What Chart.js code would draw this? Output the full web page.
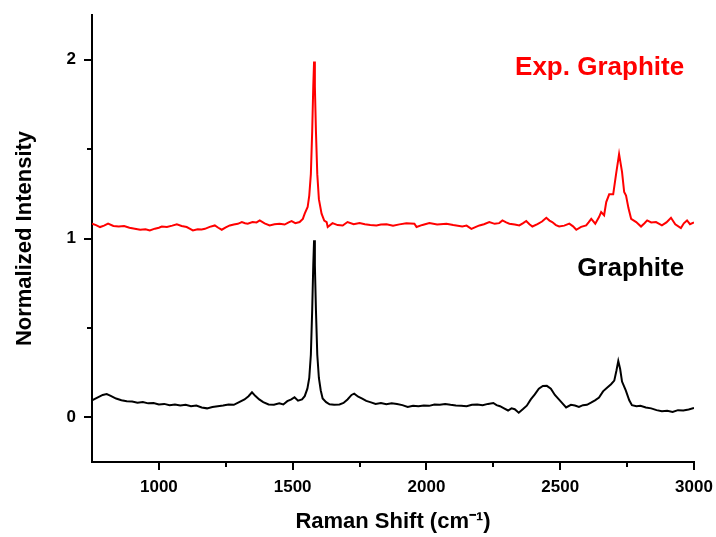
<!DOCTYPE html>
<html>
<head>
<meta charset="utf-8">
<script src="https://cdn.jsdelivr.net/npm/chart.js@4.4.1/dist/chart.umd.min.js"></script>
<style>
  body { margin: 0; background: #fff; }
  #caja { width: 716px; height: 537px; }
</style>
</head>
<body>
<div id="caja"><canvas id="graficoRaman"></canvas></div>
<script>
// Grafito (negro)
const grafitoShift = [750,770,790,805,820,840,860,880,900,920,940,960,980,1000,1020,1040,1060,1080,1100,1120,1140,1160,1180,1200,1220,1240,1260,1280,1300,1320,1335,1348,1360,1375,1390,1410,1430,1450,1465,1480,1495,1507,1520,1535,1545,1555,1562,1568,1573,1577,1580,1583,1587,1592,1598,1605,1612,1625,1638,1655,1675,1690,1705,1720,1730,1745,1760,1775,1790,1810,1830,1850,1870,1890,1910,1930,1950,1970,1990,2010,2030,2050,2070,2090,2110,2130,2150,2170,2190,2210,2230,2250,2262,2275,2290,2305,2318,2330,2345,2360,2375,2390,2405,2420,2435,2450,2465,2480,2495,2510,2522,2540,2555,2570,2585,2600,2615,2630,2645,2660,2675,2690,2702,2710,2717,2724,2731,2745,2758,2768,2785,2800,2820,2840,2860,2880,2900,2920,2940,2960,2980,3000];
const grafitoIntensidad = [0.095,0.11,0.125,0.13,0.12,0.105,0.095,0.09,0.088,0.082,0.085,0.078,0.08,0.072,0.075,0.068,0.072,0.066,0.07,0.062,0.066,0.055,0.05,0.058,0.062,0.066,0.072,0.07,0.085,0.1,0.118,0.14,0.12,0.1,0.085,0.072,0.07,0.078,0.072,0.09,0.1,0.112,0.093,0.1,0.118,0.16,0.22,0.35,0.6,0.85,0.99,0.85,0.6,0.35,0.22,0.15,0.105,0.085,0.073,0.07,0.072,0.08,0.1,0.125,0.132,0.115,0.105,0.092,0.085,0.075,0.08,0.073,0.078,0.074,0.068,0.058,0.065,0.062,0.066,0.064,0.072,0.07,0.075,0.07,0.066,0.064,0.062,0.07,0.072,0.068,0.075,0.08,0.068,0.062,0.05,0.038,0.05,0.045,0.026,0.045,0.065,0.1,0.128,0.16,0.175,0.176,0.16,0.125,0.1,0.075,0.055,0.07,0.066,0.058,0.068,0.07,0.082,0.095,0.11,0.145,0.165,0.185,0.205,0.26,0.315,0.27,0.2,0.15,0.095,0.068,0.062,0.064,0.055,0.05,0.04,0.034,0.036,0.03,0.04,0.038,0.044,0.052];

// Grafito expandido (rojo)
const expShift = [750,765,780,795,810,830,850,870,890,910,930,950,966,985,1000,1011,1030,1050,1067,1085,1104,1115,1127,1145,1160,1172,1190,1209,1222,1235,1250,1265,1280,1295,1310,1322,1332,1350,1365,1377,1395,1414,1432,1451,1470,1485,1496,1510,1526,1538,1545,1556,1562,1568,1573,1577,1580,1583,1587,1592,1598,1608,1618,1627,1631,1649,1668,1687,1705,1728,1750,1770,1790,1813,1830,1851,1875,1899,1925,1955,1963,1985,2011,2040,2075,2100,2134,2150,2168,2185,2198,2215,2235,2255,2272,2284,2298,2310,2330,2347,2360,2373,2385,2396,2415,2432,2448,2460,2470,2484,2496,2515,2534,2548,2560,2578,2597,2606,2616,2631,2645,2653,2664,2672,2683,2698,2709,2720,2731,2739,2746,2755,2765,2784,2802,2815,2825,2840,2858,2880,2897,2914,2930,2951,2962,2974,2985,3000];
const expIntensidad = [1.083,1.075,1.064,1.072,1.083,1.07,1.067,1.07,1.06,1.055,1.049,1.052,1.045,1.055,1.06,1.067,1.065,1.072,1.079,1.07,1.064,1.055,1.045,1.052,1.05,1.054,1.065,1.073,1.06,1.049,1.062,1.073,1.078,1.082,1.092,1.085,1.083,1.092,1.09,1.101,1.085,1.073,1.08,1.083,1.078,1.09,1.097,1.086,1.092,1.11,1.139,1.176,1.24,1.36,1.6,1.85,1.99,1.85,1.6,1.36,1.22,1.139,1.1,1.092,1.064,1.086,1.075,1.073,1.092,1.08,1.086,1.08,1.075,1.073,1.078,1.079,1.072,1.079,1.085,1.083,1.064,1.076,1.086,1.078,1.083,1.075,1.067,1.072,1.054,1.065,1.073,1.08,1.092,1.082,1.086,1.101,1.09,1.083,1.078,1.073,1.085,1.098,1.08,1.067,1.08,1.095,1.116,1.1,1.092,1.075,1.067,1.072,1.083,1.068,1.049,1.065,1.073,1.09,1.11,1.083,1.12,1.148,1.13,1.204,1.247,1.247,1.363,1.472,1.373,1.26,1.24,1.17,1.11,1.092,1.067,1.085,1.101,1.09,1.092,1.073,1.09,1.116,1.08,1.058,1.085,1.101,1.08,1.09];

// ejes
const xMin = 750, xMax = 3000;
const yMin = -0.25, yMax = 2.25;
const xTicksMayores = [1000, 1500, 2000, 2500, 3000];
const xTicksMenores = [1250, 1750, 2250, 2750];
const yTicksMayores = [0, 1, 2];
const yTicksMenores = [0.5, 1.5];

const fuente = "'Liberation Sans', Arial, sans-serif";

function puntos(xs, ys) {
    return xs.map((v, i) => ({x: v, y: ys[i]}));
}

// marcas de los ejes (mayores y menores)
const marcasEjes = {
    id: 'marcasEjes',
    afterDraw(chart) {
        const c = chart.ctx;
        const sx = chart.scales.x;
        const sy = chart.scales.y;
        const area = chart.chartArea;
        c.save();
        c.strokeStyle = '#000';
        c.lineWidth = 2;
        c.beginPath();
        xTicksMayores.forEach(v => { const p = Math.round(sx.getPixelForValue(v)); c.moveTo(p, area.bottom); c.lineTo(p, area.bottom + 8); });
        xTicksMenores.forEach(v => { const p = Math.round(sx.getPixelForValue(v)); c.moveTo(p, area.bottom); c.lineTo(p, area.bottom + 5); });
        yTicksMayores.forEach(v => { const p = Math.round(sy.getPixelForValue(v)); c.moveTo(area.left, p); c.lineTo(area.left - 8, p); });
        yTicksMenores.forEach(v => { const p = Math.round(sy.getPixelForValue(v)); c.moveTo(area.left, p); c.lineTo(area.left - 5, p); });
        c.stroke();

        // etiquetas de las curvas
        c.font = 'bold 26px ' + fuente;
        c.textAlign = 'right';
        c.textBaseline = 'middle';
        c.fillStyle = '#ff0000';
        c.fillText('Exp. Graphite', sx.getPixelForValue(2963), sy.getPixelForValue(1.955));
        c.fillStyle = '#000';
        c.fillText('Graphite', sx.getPixelForValue(2963), sy.getPixelForValue(0.83));
        c.restore();
    }
};

const ctx = document.getElementById('graficoRaman');

new Chart(ctx, {
    type: 'scatter',
    data: {
        datasets: [{
            label: 'Graphite',
            data: puntos(grafitoShift, grafitoIntensidad),
            showLine: true,
            borderColor: '#000000',
            borderWidth: 2,
            pointRadius: 0,
            tension: 0
        }, {
            label: 'Exp. Graphite',
            data: puntos(expShift, expIntensidad),
            showLine: true,
            borderColor: '#ff0000',
            borderWidth: 2,
            pointRadius: 0,
            tension: 0
        }]
    },
    options: {
        responsive: true,
        maintainAspectRatio: false,
        animation: false,
        layout: { padding: { top: 15, right: 22, left: 0, bottom: 0 } },
        plugins: {
            legend: { display: false },
            tooltip: { enabled: false }
        },
        scales: {
            x: {
                type: 'linear',
                min: xMin,
                max: xMax,
                afterFit: (s) => { s.height = 75; s.paddingLeft = 0; s.paddingRight = 0; },
                afterBuildTicks: (s) => { s.ticks = xTicksMayores.map(v => ({value: v})); },
                ticks: {
                    color: '#000',
                    padding: 15,
                    maxRotation: 0,
                    callback: (v) => String(v),
                    font: { size: 17, weight: 'bold', family: fuente }
                },
                grid: { display: true, drawOnChartArea: false, drawTicks: false },
                border: { display: true, color: '#000', width: 2 },
                title: {
                    display: true,
                    text: 'Raman Shift (cm\u207B\u00B9)',
                    color: '#000',
                    font: { size: 22, weight: 'bold', family: fuente, lineHeight: 1.2 },
                    padding: { top: 0, bottom: 2 }
                }
            },
            y: {
                type: 'linear',
                min: yMin,
                max: yMax,
                afterFit: (s) => { s.width = 92; s.paddingTop = 0; s.paddingBottom = 0; },
                afterBuildTicks: (s) => { s.ticks = yTicksMayores.map(v => ({value: v})); },
                ticks: {
                    color: '#000',
                    padding: 16,
                    callback: (v) => String(v),
                    font: { size: 17, weight: 'bold', family: fuente }
                },
                grid: { display: true, drawOnChartArea: false, drawTicks: false },
                border: { display: true, color: '#000', width: 2 },
                title: {
                    display: true,
                    text: 'Normalized Intensity',
                    color: '#000',
                    font: { size: 22, weight: 'bold', family: fuente, lineHeight: 1.2 },
                    padding: { top: 12, bottom: 0 }
                }
            }
        }
    },
    plugins: [marcasEjes]
});
</script>
</body>
</html>
